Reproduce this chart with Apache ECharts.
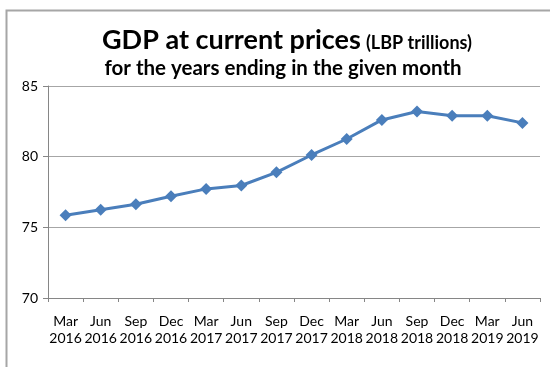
<!DOCTYPE html>
<html>
<head>
<meta charset="utf-8">
<script src="https://cdn.jsdelivr.net/npm/echarts@6/dist/echarts.min.js"></script>
<style>html,body{margin:0;padding:0;background:#fff}#c{width:550px;height:367px}</style>
</head>
<body>
<div id="c"></div>
<script>
const categories = ['Mar\n2016','Jun\n2016','Sep\n2016','Dec\n2016','Mar\n2017','Jun\n2017','Sep\n2017','Dec\n2017','Mar\n2018','Jun\n2018','Sep\n2018','Dec\n2018','Mar\n2019','Jun\n2019'];
const gdpValues = [75.85, 76.25, 76.63, 77.2, 77.72, 77.96, 78.89, 80.12, 81.25, 82.6, 83.2, 82.9, 82.9, 82.39];
const yTicks = {min: 70, max: 85, interval: 5};
const titleMain = 'GDP at current prices';
const titleUnit = '(LBP trillions)';
const subtitle = 'for the years ending in the given month';

const font = 'Lato, "Open Sans", sans-serif';
const chart = echarts.init(document.getElementById('c'), null, {renderer: 'canvas'});
chart.setOption({
  animation: false,
  backgroundColor: '#fff',
  graphic: [{
    type: 'rect', silent: true,
    shape: {x: 6.5, y: 10.5, width: 700, height: 500},
    style: {fill: 'none', stroke: '#a6a6a6', lineWidth: 2}
  }],
  title: [{
    text: '{a|' + titleMain + '} {b|' + titleUnit + '}',
    left: 282, top: 22, textAlign: 'center',
    textStyle: {
      rich: {
        a: {fontFamily: font, fontWeight: 'bold', fontSize: 27, color: '#000'},
        b: {fontFamily: font, fontWeight: 'bold', fontSize: 18, color: '#000', padding: [5,0,0,0]}
      }
    }
  }, {
    text: subtitle,
    left: 278, top: 53, textAlign: 'center',
    textStyle: {fontFamily: font, fontWeight: 'bold', fontSize: 20.5, color: '#000'}
  }],
  grid: {left: 48, right: 10, top: 86, bottom: 69, containLabel: false},
  xAxis: {
    type: 'category', data: categories, boundaryGap: true,
    axisLine: {lineStyle: {color: '#868686', width: 1}},
    axisTick: {show: true, alignWithLabel: false, length: 4, lineStyle: {color: '#868686'}},
    axisLabel: {fontFamily: font, fontSize: 14, color: '#000', lineHeight: 17, margin: 15, interval: 0}
  },
  yAxis: {
    type: 'value', min: yTicks.min, max: yTicks.max, interval: yTicks.interval,
    axisLine: {show: true, lineStyle: {color: '#868686', width: 1}},
    axisTick: {show: true, length: 5, lineStyle: {color: '#868686'}},
    splitLine: {lineStyle: {color: '#a6a6a6', width: 1}},
    axisLabel: {fontFamily: font, fontSize: 14, color: '#000', margin: 10}
  },
  series: [{
    type: 'line', data: gdpValues,
    symbol: 'diamond', symbolSize: 12,
    lineStyle: {color: '#4a7ebb', width: 3},
    itemStyle: {color: '#4a7ebb'}
  }]
});
</script>
</body>
</html>
